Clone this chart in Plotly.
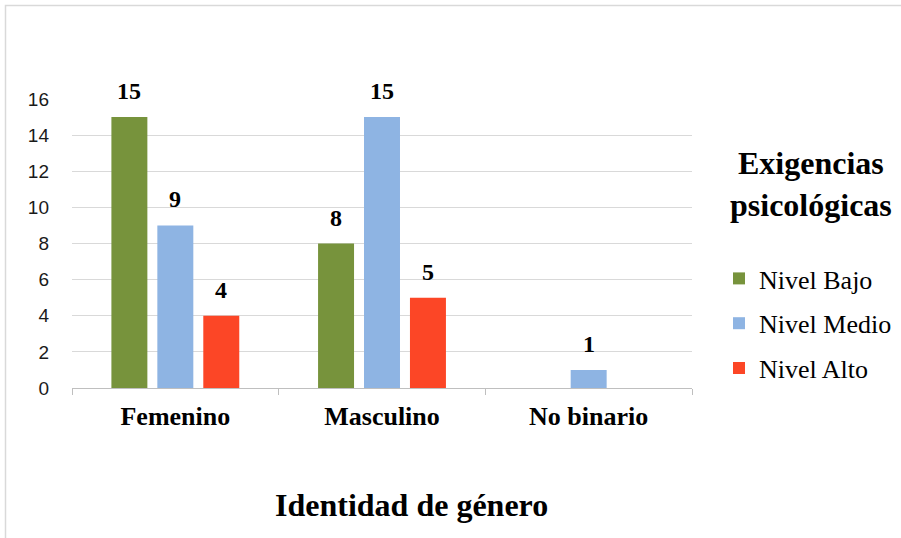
import plotly.graph_objects as go

categories = ["Femenino", "Masculino", "No binario"]
series_names = ["Nivel Bajo", "Nivel Medio", "Nivel Alto"]
nivel_bajo = [15, 8, None]
nivel_medio = [9, 15, 1]
nivel_alto = [4, 5, None]
colors = ["#77933C", "#8EB4E3", "#FC4626"]
y_ticks = [0, 2, 4, 6, 8, 10, 12, 14, 16]

serif = "Liberation Serif"
sans = "Liberation Sans"

L, R, T, B = 72, 209, 99, 150
W, H = 901, 538
pw, ph = W - L - R, H - T - B

fig = go.Figure()
all_series = [nivel_bajo, nivel_medio, nivel_alto]
for i, (name, vals) in enumerate(zip(series_names, all_series)):
    fig.add_trace(go.Bar(
        x=categories, y=vals, name=name, marker_color=colors[i],
        marker_line_width=0, legendgroup=name,
    ))
    # value labels above each bar
    for c, v in zip(categories, vals):
        if v is None:
            continue
        fig.add_annotation(
            x=c, y=v, xref="x", yref="y", text="<b>%d</b>" % v,
            showarrow=False, xanchor="center", yanchor="middle",
            xshift=(i - 1) * 46, yshift=26,
            font=dict(family=serif, size=24, color="black"),
        )

fig.update_layout(
    width=W, height=H,
    margin=dict(l=L, r=R, t=T, b=B, pad=0, autoexpand=False),
    paper_bgcolor="white", plot_bgcolor="white",
    barmode="group", bargap=0.333, bargroupgap=0.217,
    showlegend=True,
    legend=dict(
        x=(719 - L) / pw, y=(H - B - 255) / ph, xanchor="left", yanchor="top",
        font=dict(family=serif, size=26, color="black"),
        traceorder="grouped", tracegroupgap=8,
        itemwidth=30,
    ),
    xaxis=dict(
        showline=True, linecolor="#BFBFBF", linewidth=1,
        ticks="outside", tickson="boundaries", ticklen=6, tickcolor="#BFBFBF",
        tickfont=dict(family=serif, size=26, color="black"),
        tickvals=categories, ticktext=["<b>%s</b>" % c for c in categories],
        showgrid=False, ticklabelstandoff=5,
    ),
    yaxis=dict(
        range=[0, 16], tickvals=y_ticks,
        showgrid=True, gridcolor="#D9D9D9", gridwidth=1,
        zeroline=False, showline=False,
        tickfont=dict(family=sans, size=19, color="#1a1a1a"),
        ticklabelstandoff=22,
    ),
)

# legend title
fig.add_annotation(
    text="<b>Exigencias<br>psicológicas</b>", xref="paper", yref="paper",
    x=(811 - L) / pw, y=(H - B - 184) / ph, xanchor="center", yanchor="middle",
    showarrow=False, align="center",
    font=dict(family=serif, size=32, color="black"),
)

# X axis title as annotation
fig.add_annotation(
    text="<b>Identidad de género</b>", xref="paper", yref="paper",
    x=(411 - L) / pw, y=(H - B - 505) / ph, xanchor="center", yanchor="middle",
    showarrow=False, font=dict(family=serif, size=32, color="black"),
)

# outer chart frame
fig.add_shape(
    type="rect", xref="paper", yref="paper",
    x0=(5.5 - L) / pw, x1=(W + 20 - L) / pw,
    y0=(H - B - (H + 20)) / ph, y1=(H - B - 5.5) / ph,
    line=dict(color="#D9D9D9", width=1.5), fillcolor="rgba(0,0,0,0)", layer="below",
)

fig.write_html("out.html")
